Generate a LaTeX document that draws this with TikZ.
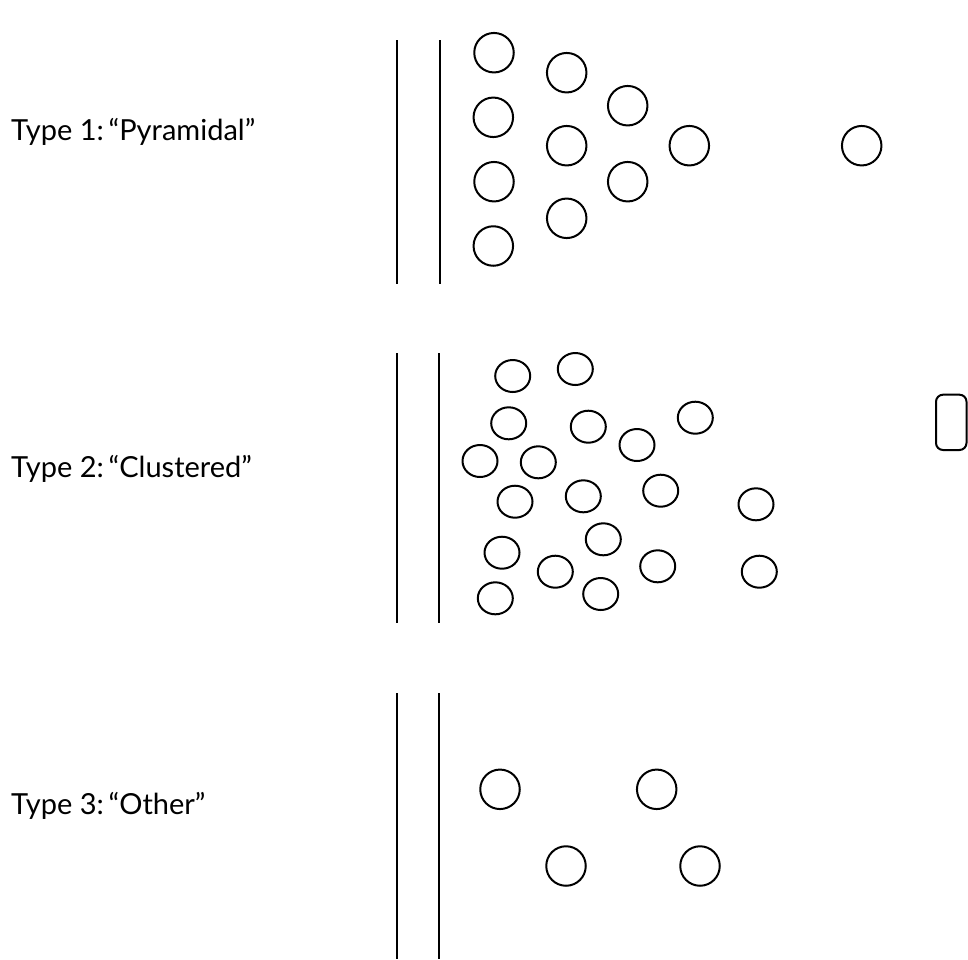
\documentclass[tikz,border=0pt]{standalone}
\usepackage{fontspec}
\setmainfont{Lato}
\usetikzlibrary{shapes.geometric}
\begin{document}
\begin{tikzpicture}[x=1pt,y=-1pt,
  wall/.style={line width=2pt},
  ball/.style={circle,draw,line width=2pt,minimum size=39.5pt,inner sep=0pt},
  oval/.style={ellipse,draw,line width=2pt,minimum width=35pt,minimum height=32pt,inner sep=0pt},
  lbl/.style={anchor=west,font=\fontsize{29}{32}\selectfont,inner sep=0pt}]
\useasboundingbox (0,0) rectangle (968,959);
% labels
\node[lbl] (t1) at (11,132) {Type 1:\,“Pyramidal”};
\node[lbl] (t2) at (11,469) {Type 2:\,“Clustered”};
\node[lbl] (t3) at (11,806) {Type 3:\,“Other”};
% walls
\coordinate (a1) at (396.7,40); \coordinate (a2) at (396.7,284);
\coordinate (b1) at (439.5,40); \coordinate (b2) at (439.5,284);
\coordinate (a3) at (396.5,353); \coordinate (a4) at (396.5,623);
\coordinate (b3) at (439.3,353); \coordinate (b4) at (439.3,623);
\coordinate (a5) at (396.7,693); \coordinate (a6) at (396.7,959);
\coordinate (b5) at (439.3,693); \coordinate (b6) at (439.3,959);
\draw[wall] (a1) -- (a2); \draw[wall] (b1) -- (b2);
\draw[wall] (a3) -- (a4); \draw[wall] (b3) -- (b4);
\draw[wall] (a5) -- (a6); \draw[wall] (b5) -- (b6);
% type 1
\node[ball] (p1) at (494,52.7) {};
\node[ball] (p2) at (493.3,117.3) {};
\node[ball] (p3) at (494,181.7) {};
\node[ball] (p4) at (493.3,246) {};
\node[ball] (p5) at (566.7,72.7) {};
\node[ball] (p6) at (566.7,145.7) {};
\node[ball] (p7) at (566.7,218.3) {};
\node[ball] (p8) at (627.7,105.7) {};
\node[ball] (p9) at (627.7,181.7) {};
\node[ball] (p10) at (689.3,145.7) {};
\node[ball] (p11) at (861.7,145.7) {};
% type 2
\node[oval] (c1) at (512.7,376) {};
\node[oval] (c2) at (575.3,369) {};
\node[oval] (c3) at (508.7,423.3) {};
\node[oval] (c4) at (588.3,426.7) {};
\node[oval] (c5) at (695.3,417.7) {};
\node[oval] (c6) at (637,445) {};
\node[oval] (c7) at (480,461) {};
\node[oval] (c8) at (538.3,462.3) {};
\node[oval] (c9) at (515,501.7) {};
\node[oval] (c10) at (583.3,496.3) {};
\node[oval] (c11) at (660.7,490.7) {};
\node[oval] (c12) at (756,504.3) {};
\node[oval] (c13) at (603.3,539.3) {};
\node[oval] (c14) at (502,552.7) {};
\node[oval] (c15) at (555.3,571.7) {};
\node[oval] (c16) at (657.7,566.3) {};
\node[oval] (c17) at (759.3,571.7) {};
\node[oval] (c18) at (495.3,598.3) {};
\node[oval] (c19) at (600.7,594) {};
\draw[line width=2pt,rounded corners=7pt] (936,394.7) rectangle (966.5,450);
% type 3
\node[ball] (o1) at (500,789.3) {};
\node[ball] (o2) at (656.7,789.3) {};
\node[ball] (o3) at (566,866) {};
\node[ball] (o4) at (700,866) {};
\end{tikzpicture}
\end{document}
